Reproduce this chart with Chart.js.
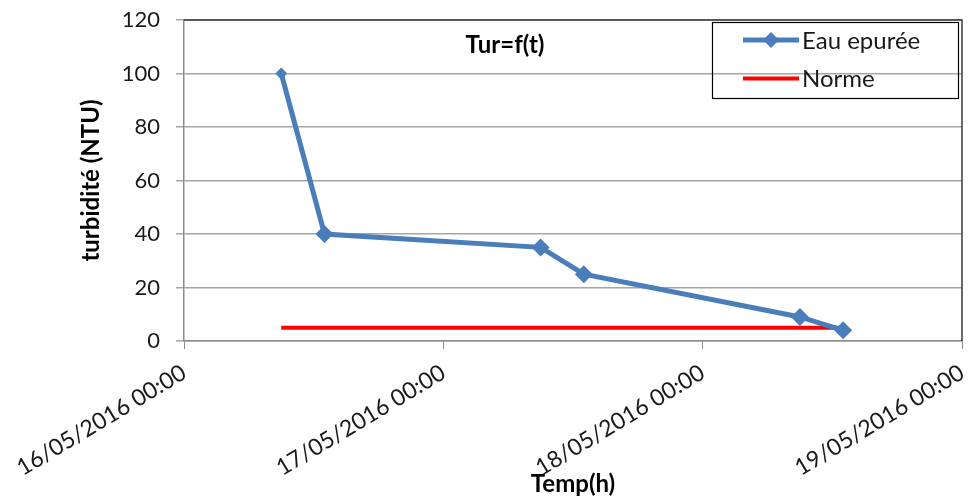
<!DOCTYPE html>
<html>
<head>
<meta charset="utf-8">
<title>Tur=f(t)</title>
<script src="https://cdn.jsdelivr.net/npm/chart.js@4/dist/chart.umd.min.js"></script>
<style>
  body { margin: 0; background: #fff; }
  #wrap { width: 971px; height: 499px; }
</style>
</head>
<body>
<div id="wrap"><canvas id="turChart" width="971" height="499"></canvas></div>
<script>
// sample times and turbidity readings
const sampleTimes = ['16/05/2016 09:00', '16/05/2016 13:00', '17/05/2016 09:00', '17/05/2016 13:00', '18/05/2016 09:00', '18/05/2016 13:00'];
const eauEpuree = [100, 40, 35, 25, 9, 4];
const norme = [5, 5, 5, 5, 5, 5];
const axisTicks = ['16/05/2016 00:00', '17/05/2016 00:00', '18/05/2016 00:00', '19/05/2016 00:00'];
const yTicks = [0, 20, 40, 60, 80, 100, 120];

const FONT = 'Lato';
const BLUE = '#4A7EBB';
const RED = '#FF0000';

// hours since the first axis tick
function toHours(str) {
    const [d, t] = str.split(' ');
    const [day, month, year] = d.split('/').map(Number);
    const [h, m] = t.split(':').map(Number);
    const [d0, m0, y0] = axisTicks[0].split(' ')[0].split('/').map(Number);
    const diff = Date.UTC(year, month - 1, day, h, m) - Date.UTC(y0, m0 - 1, d0);
    return diff / 3600000;
}

const xs = sampleTimes.map(toHours);
const xMax = toHours(axisTicks[axisTicks.length - 1]);

// title, plot border and legend drawn on the canvas
const decorations = {
    id: 'decorations',
    afterDraw(chart) {
        const ctx = chart.ctx;
        const a = chart.chartArea;
        ctx.save();

        // top and right border of the plot
        ctx.strokeStyle = '#3a3a3a';
        ctx.lineWidth = 1.5;
        ctx.beginPath();
        ctx.moveTo(a.left, a.top);
        ctx.lineTo(a.right, a.top);
        ctx.lineTo(a.right, a.bottom);
        ctx.stroke();

        // title
        ctx.fillStyle = '#000';
        ctx.font = 'bold 24px ' + FONT;
        ctx.textAlign = 'center';
        ctx.textBaseline = 'middle';
        ctx.fillText('Tur=f(t)', 505, 45);

        // legend
        ctx.strokeStyle = '#000';
        ctx.lineWidth = 1.2;
        ctx.strokeRect(712.5, 22.5, 246, 76);
        ctx.font = '24px ' + FONT;
        ctx.textAlign = 'left';
        chart.data.datasets.forEach((ds, i) => {
            const y = 40 + i * 38.5;
            ctx.strokeStyle = ds.borderColor;
            ctx.lineWidth = ds.borderWidth;
            ctx.beginPath();
            ctx.moveTo(743, y);
            ctx.lineTo(799, y);
            ctx.stroke();
            if (ds.pointStyle && ds.legendRadius) {
                ctx.fillStyle = ds.borderColor;
                ctx.beginPath();
                ctx.moveTo(771, y - ds.legendRadius);
                ctx.lineTo(771 + ds.legendRadius, y);
                ctx.lineTo(771, y + ds.legendRadius);
                ctx.lineTo(771 - ds.legendRadius, y);
                ctx.closePath();
                ctx.fill();
            }
            ctx.fillStyle = '#1a1a1a';
            ctx.fillText(ds.label, 802, y + 1);
        });
        ctx.restore();
    }
};

new Chart(document.getElementById('turChart'), {
    type: 'line',
    data: {
        datasets: [
            {
                label: 'Eau epurée',
                data: xs.map((x, i) => ({ x: x, y: eauEpuree[i] })),
                borderColor: BLUE,
                backgroundColor: BLUE,
                borderWidth: 5,
                pointStyle: 'rectRot',
                pointRadius: [6, 9, 9, 9, 9, 9],
                pointBorderWidth: 0,
                legendRadius: 8,
                tension: 0
            },
            {
                label: 'Norme',
                data: xs.map((x, i) => ({ x: x, y: norme[i] })),
                borderColor: RED,
                backgroundColor: RED,
                borderWidth: 4,
                pointRadius: 0,
                tension: 0
            }
        ]
    },
    options: {
        responsive: false,
        animation: false,
        layout: { padding: { left: 0, top: 20, right: 7, bottom: 0 } },
        plugins: {
            legend: { display: false },
            tooltip: { enabled: false }
        },
        scales: {
            x: {
                type: 'linear',
                min: 0,
                max: xMax,
                afterBuildTicks: s => { s.ticks = axisTicks.map((t, i) => ({ value: i * 24 })); },
                ticks: {
                    autoSkip: false,
                    maxRotation: 31,
                    minRotation: 31,
                    color: '#1a1a1a',
                    font: { family: FONT, size: 23 },
                    padding: 10,
                    callback: (v) => axisTicks[Math.round(v / 24)]
                },
                grid: { drawOnChartArea: false, drawTicks: true, tickLength: 8, color: '#8c8c8c' },
                border: { color: '#8c8c8c', width: 1.5 },
                title: {
                    display: true,
                    text: 'Temp(h)',
                    color: '#000',
                    font: { family: FONT, size: 24, weight: 'bold' },
                    padding: { top: 0, bottom: 0 }
                },
                afterFit: s => { s.height = 158; s.paddingLeft = 0; s.paddingRight = 0; }
            },
            y: {
                min: 0,
                max: 120,
                afterBuildTicks: s => { s.ticks = yTicks.map(v => ({ value: v })); },
                ticks: {
                    color: '#1a1a1a',
                    font: { family: FONT, size: 22 },
                    padding: 16
                },
                grid: { color: '#a6a6a6', lineWidth: 1.5, tickLength: 8 },
                border: { color: '#8c8c8c', width: 1.5 },
                title: {
                    display: true,
                    text: 'turbidité (NTU)',
                    color: '#000',
                    font: { family: FONT, size: 24, weight: 'bold' },
                    padding: { top: 77, bottom: 0 }
                },
                afterFit: s => { s.width = 184; s.paddingTop = 0; s.paddingBottom = 0; }
            }
        }
    },
    plugins: [decorations]
});
</script>
</body>
</html>
